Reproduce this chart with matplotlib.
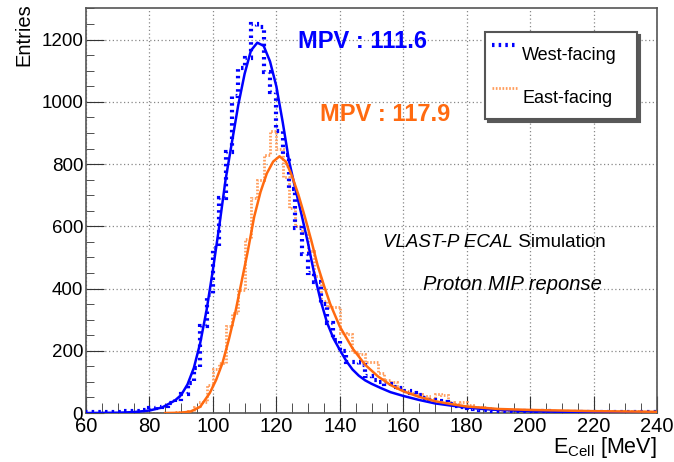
import numpy as np
import matplotlib
matplotlib.use("Agg")
import matplotlib.pyplot as plt
from matplotlib.ticker import MultipleLocator

plt.rcParams['font.family'] = ['Liberation Sans', 'DejaVu Sans']
plt.rcParams['mathtext.fontset'] = 'custom'
plt.rcParams['mathtext.rm'] = 'Liberation Sans'

# 2 MeV bins from 60 to 240 MeV
bin_lo = 60
bin_hi = 240
bin_w = 2

west_counts = [
    2, 3, 2, 3, 3, 4, 5, 6, 8, 9,            # 60-78
    15, 20, 24, 33, 45, 60, 95, 145, 280, 380,  # 80-98
    530, 690, 840, 1020, 1110, 1140, 1250, 1240, 1095, 1030,  # 100-118
    905, 830, 720, 595, 510, 450, 420, 350, 290, 235,  # 120-138
    200, 165, 165, 155, 120, 105, 100, 93, 85, 82,   # 140-158
    70, 65, 58, 48, 42, 38, 35, 30, 22, 20,          # 160-178
    15, 12, 10, 10, 8, 7, 6, 5, 5, 6,                # 180-198
    5, 4, 5, 4, 3, 4, 3, 3, 2, 3,                    # 200-218
    2, 3, 2, 2, 3, 2, 2, 4, 3, 2,                    # 220-238
]

east_counts = [
    0, 0, 0, 0, 0, 0, 0, 0, 0, 0,            # 60-78
    0, 0, 1, 1, 2, 3, 8, 20, 35, 90,         # 80-98
    140, 160, 280, 320, 395, 560, 690, 750, 830, 905,  # 100-118
    850, 760, 660, 600, 580, 520, 440, 360, 340, 340,  # 120-138
    257, 255, 196, 190, 165, 165, 130, 105, 100, 80,   # 140-158
    70, 65, 60, 55, 45, 60, 58, 35, 30, 35,            # 160-178
    25, 20, 18, 15, 12, 11, 10, 9, 10, 9,              # 180-198
    8, 9, 7, 8, 7, 8, 6, 7, 6, 5,                      # 200-218
    6, 5, 5, 4, 5, 4, 5, 4, 3, 4,                      # 220-238
]

# fitted curves
west_fit_x = [60, 70, 75, 80, 84, 88, 90, 92, 94, 96, 98, 100, 102, 104, 106, 108,
              110, 112, 114, 116, 118, 120, 122, 124, 126, 128, 130, 132, 134, 136,
              138, 140, 142, 144, 146, 148, 150, 153, 156, 160, 165, 170, 175, 180,
              185, 190, 200, 210, 220, 230, 240]
west_fit_y = [0, 1, 3, 8, 18, 40, 58, 92, 145, 225, 330, 460, 600, 750, 870, 990,
              1090, 1165, 1190, 1180, 1130, 1050, 935, 810, 720, 635, 545, 445, 360, 290,
              240, 203, 168, 140, 120, 105, 94, 80, 67, 55, 42, 31, 24, 18,
              13, 10, 6, 4, 3, 2, 1]

east_fit_x = [85, 90, 93, 96, 99, 101, 103, 105, 107, 109, 111, 113, 115, 117, 119,
              121, 123, 125, 127, 129, 131, 133, 135, 137, 140, 144, 148, 152, 156,
              160, 165, 170, 175, 180, 190, 200, 210, 220, 230, 240]
east_fit_y = [0, 1, 5, 20, 64, 106, 160, 235, 320, 420, 520, 630, 710, 770, 808,
              825, 808, 760, 700, 630, 555, 475, 410, 350, 278, 208, 155, 118, 90,
              70, 52, 38, 29, 21, 13, 10, 8, 6, 5, 4]

labels = ['West-facing', 'East-facing']
mpv = [111.6, 117.9]

blue = '#0000ff'
orange = '#ff6a10'
orange_hist = '#ff9d5c'

edges = np.arange(bin_lo, bin_hi + bin_w, bin_w)

fig = plt.figure(figsize=(6.74, 4.62), dpi=100)
ax = fig.add_axes([0.1276, 0.106, 0.8472, 0.877])

ax.stairs(west_counts, edges, color=blue, lw=3, linestyle=(0, (0.6, 1.0)),
          label=labels[0], zorder=3)
ax.stairs(east_counts, edges, color=orange_hist, lw=2, linestyle=(0, (0.6, 0.6)),
          label=labels[1], zorder=2)
ax.plot(west_fit_x, west_fit_y, color=blue, lw=1.8, zorder=4)
ax.plot(east_fit_x, east_fit_y, color=orange, lw=1.8, zorder=4)

ax.set_xlim(60, 240)
ax.set_ylim(0, 1302)

ax.xaxis.set_major_locator(MultipleLocator(20))
ax.xaxis.set_minor_locator(MultipleLocator(5))
ax.yaxis.set_major_locator(MultipleLocator(200))
ax.yaxis.set_minor_locator(MultipleLocator(50))
ax.tick_params(which='both', direction='in', top=False, right=False, color='#333333')
ax.tick_params(axis='x', which='major', length=12, pad=3, labelsize=14.5)
ax.tick_params(axis='x', which='minor', length=7)
ax.tick_params(axis='y', which='major', length=13, pad=2, labelsize=13.5)
ax.tick_params(axis='y', which='minor', length=6)
ax.grid(True, which='major', linestyle=(0, (1, 2)), color='#888888', lw=0.9)
ax.set_axisbelow(True)
for s in ax.spines.values():
    s.set_color('#555555')
    s.set_linewidth(1.2)

ax.set_xlabel(r'E$_{\mathrm{Cell}}$ [MeV]', fontsize=15.5, loc='right', labelpad=-1)
ax.set_ylabel('Entries', fontsize=14.5, loc='top')
ax.yaxis.set_label_coords(-0.092, 1.012)

ax.text(126.8, 1194, f'MPV : {mpv[0]}', color=blue, fontsize=17,
        fontweight='bold', va='center', ha='left')
ax.text(133.8, 959, f'MPV : {mpv[1]}', color=orange, fontsize=17,
        fontweight='bold', va='center', ha='left')

t1 = ax.text(153.6, 547, 'VLAST-P ECAL', style='italic', fontsize=13.5,
             va='center', ha='left')
ax.annotate(' Simulation', xy=(1, 0.5), xycoords=t1, fontsize=13.5,
            va='center', ha='left')
ax.text(166.3, 412, 'Proton MIP reponse', style='italic', fontsize=14.5,
        va='center', ha='left')

leg = ax.legend(loc='upper left', bbox_to_anchor=(0.699, 0.941, 0.266, 0.0),
                mode='expand', fontsize=13, frameon=True, fancybox=False,
                shadow={'color': '0.35', 'alpha': 1.0},
                handlelength=1.4, handleheight=2.18, handletextpad=0.25,
                labelspacing=0.72, borderpad=0.4, borderaxespad=0)
leg.get_frame().set_edgecolor('#555555')
leg.get_frame().set_linewidth(1.5)

fig.savefig('out.png', dpi=100)
